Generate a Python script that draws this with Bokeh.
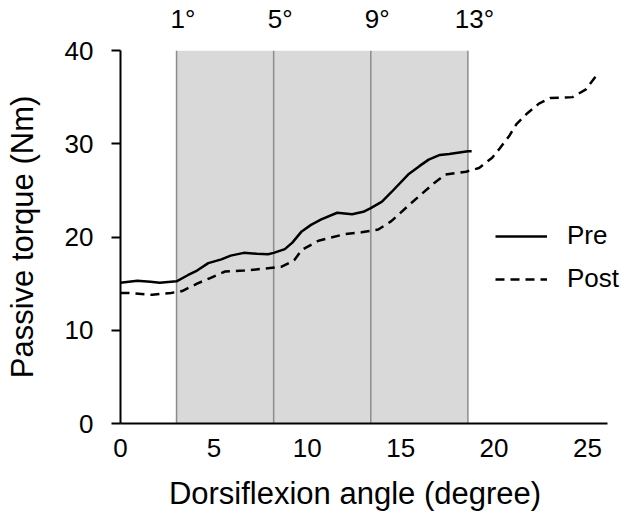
from bokeh.plotting import figure
from bokeh.models import Range1d, FixedTicker, Legend, LegendItem, LinearAxis
from bokeh.embed import file_html
from bokeh.resources import INLINE

# Data
pre_x = [0, 0.9, 1.6, 2.1, 3.0, 3.6, 4.1, 4.7, 5.4, 5.9, 6.6, 7.3, 7.9, 8.2, 8.8, 9.2, 9.7,
         10.2, 10.75, 11.6, 12.4, 13.0, 13.4, 14.0, 14.5, 15.4, 16.0, 16.5, 17.1, 17.6, 18.6, 18.8]
pre_y = [15.1, 15.3, 15.2, 15.1, 15.25, 15.9, 16.4, 17.2, 17.6, 18.0, 18.3, 18.2, 18.15, 18.3, 18.7, 19.4, 20.6,
         21.3, 21.9, 22.6, 22.45, 22.7, 23.1, 23.8, 24.8, 26.7, 27.6, 28.3, 28.8, 28.9, 29.2, 29.2]
post_x = [0, 0.4, 1.7, 2.7, 3.3, 4.1, 4.8, 5.6, 6.6, 7.7, 8.6, 9.3, 9.7, 10.6, 12.0, 12.9, 13.8,
          14.5, 15.6, 16.8, 17.4, 18.5, 19.2, 19.9, 20.3, 20.8, 21.2, 21.8, 22.4, 23.0, 24.2, 24.9, 25.4, 25.6]
post_y = [14.0, 14.0, 13.8, 14.0, 14.2, 15.0, 15.6, 16.3, 16.4, 16.6, 16.8, 17.5, 18.6, 19.6, 20.3, 20.5, 20.8,
          21.7, 23.7, 25.8, 26.7, 27.0, 27.4, 28.5, 29.5, 30.8, 32.1, 33.3, 34.3, 34.9, 35.0, 35.8, 37.1, 37.5]
boundaries = [3.0, 8.2, 13.4, 18.6]
boundary_labels = ["1°", "5°", "9°", "13°"]
x_ticks = [0, 5, 10, 15, 20, 25]
y_ticks = [0, 10, 20, 30, 40]

FONT = "Liberation Sans"

p = figure(width=620, height=514, output_backend="svg", toolbar_location=None,
           x_range=Range1d(0, 26.77), y_range=Range1d(0, 40),
           min_border_left=120, min_border_right=0, min_border_top=49, min_border_bottom=91)
p.outline_line_color = None
p.grid.visible = False

bottom = p.below[0]
left = p.left[0]

# shaded region
p.quad(left=boundaries[0], right=boundaries[-1], bottom=0, top=40,
       fill_color="#d9d9d9", line_color=None)
p.segment(x0=boundaries, y0=[0] * len(boundaries), x1=boundaries, y1=[40] * len(boundaries),
          line_color="#8c8c8c", line_width=1.5)

r_pre = p.line(pre_x, pre_y, line_color="black", line_width=2.5)
r_post = p.line(post_x, post_y, line_color="black", line_width=2.5, line_dash="9 6")

legend = Legend(items=[LegendItem(label="Pre", renderers=[r_pre]),
                       LegendItem(label="Post", renderers=[r_post])],
                location=(375, 129), border_line_alpha=0, background_fill_alpha=0,
                padding=0, margin=0, glyph_width=52, glyph_height=26, label_height=26,
                label_standoff=20, spacing=12, label_text_font=FONT,
                label_text_font_size="26px", label_text_color="black")
p.add_layout(legend)

# axes
bottom.ticker = FixedTicker(ticks=x_ticks)
left.ticker = FixedTicker(ticks=y_ticks)
for ax in (bottom, left):
    ax.axis_line_width = 2
    ax.axis_line_color = "black"
    ax.minor_tick_line_color = None
    ax.major_label_text_font = FONT
    ax.major_label_text_font_size = "26px"
    ax.major_label_text_color = "black"
    ax.axis_label_text_font = FONT
    ax.axis_label_text_font_size = "31px"
    ax.axis_label_text_font_style = "normal"
    ax.axis_label_text_color = "black"
bottom.bounds = (0, 26.1)
bottom.major_tick_line_color = None
bottom.major_tick_out = 0
bottom.major_tick_in = 0
bottom.major_label_standoff = 15
bottom.axis_label = "Dorsiflexion angle (degree)\u2003"
bottom.axis_label_standoff = 16
left.major_tick_line_width = 2
left.major_tick_out = 9
left.major_tick_in = 0
left.major_label_standoff = 18
left.axis_label = "Passive torque (Nm)"
left.axis_label_standoff = 22

# top axis with stage labels
top = LinearAxis(ticker=FixedTicker(ticks=boundaries),
                 major_label_overrides={b: "\u2002" + l for b, l in zip(boundaries, boundary_labels)},
                 axis_line_color=None, major_tick_line_color=None, minor_tick_line_color=None,
                 major_tick_out=0, major_tick_in=0, major_label_standoff=17,
                 major_label_text_font=FONT, major_label_text_font_size="26px",
                 major_label_text_color="black")
p.add_layout(top, "above")

open("out.html", "w").write(file_html(p, INLINE))
